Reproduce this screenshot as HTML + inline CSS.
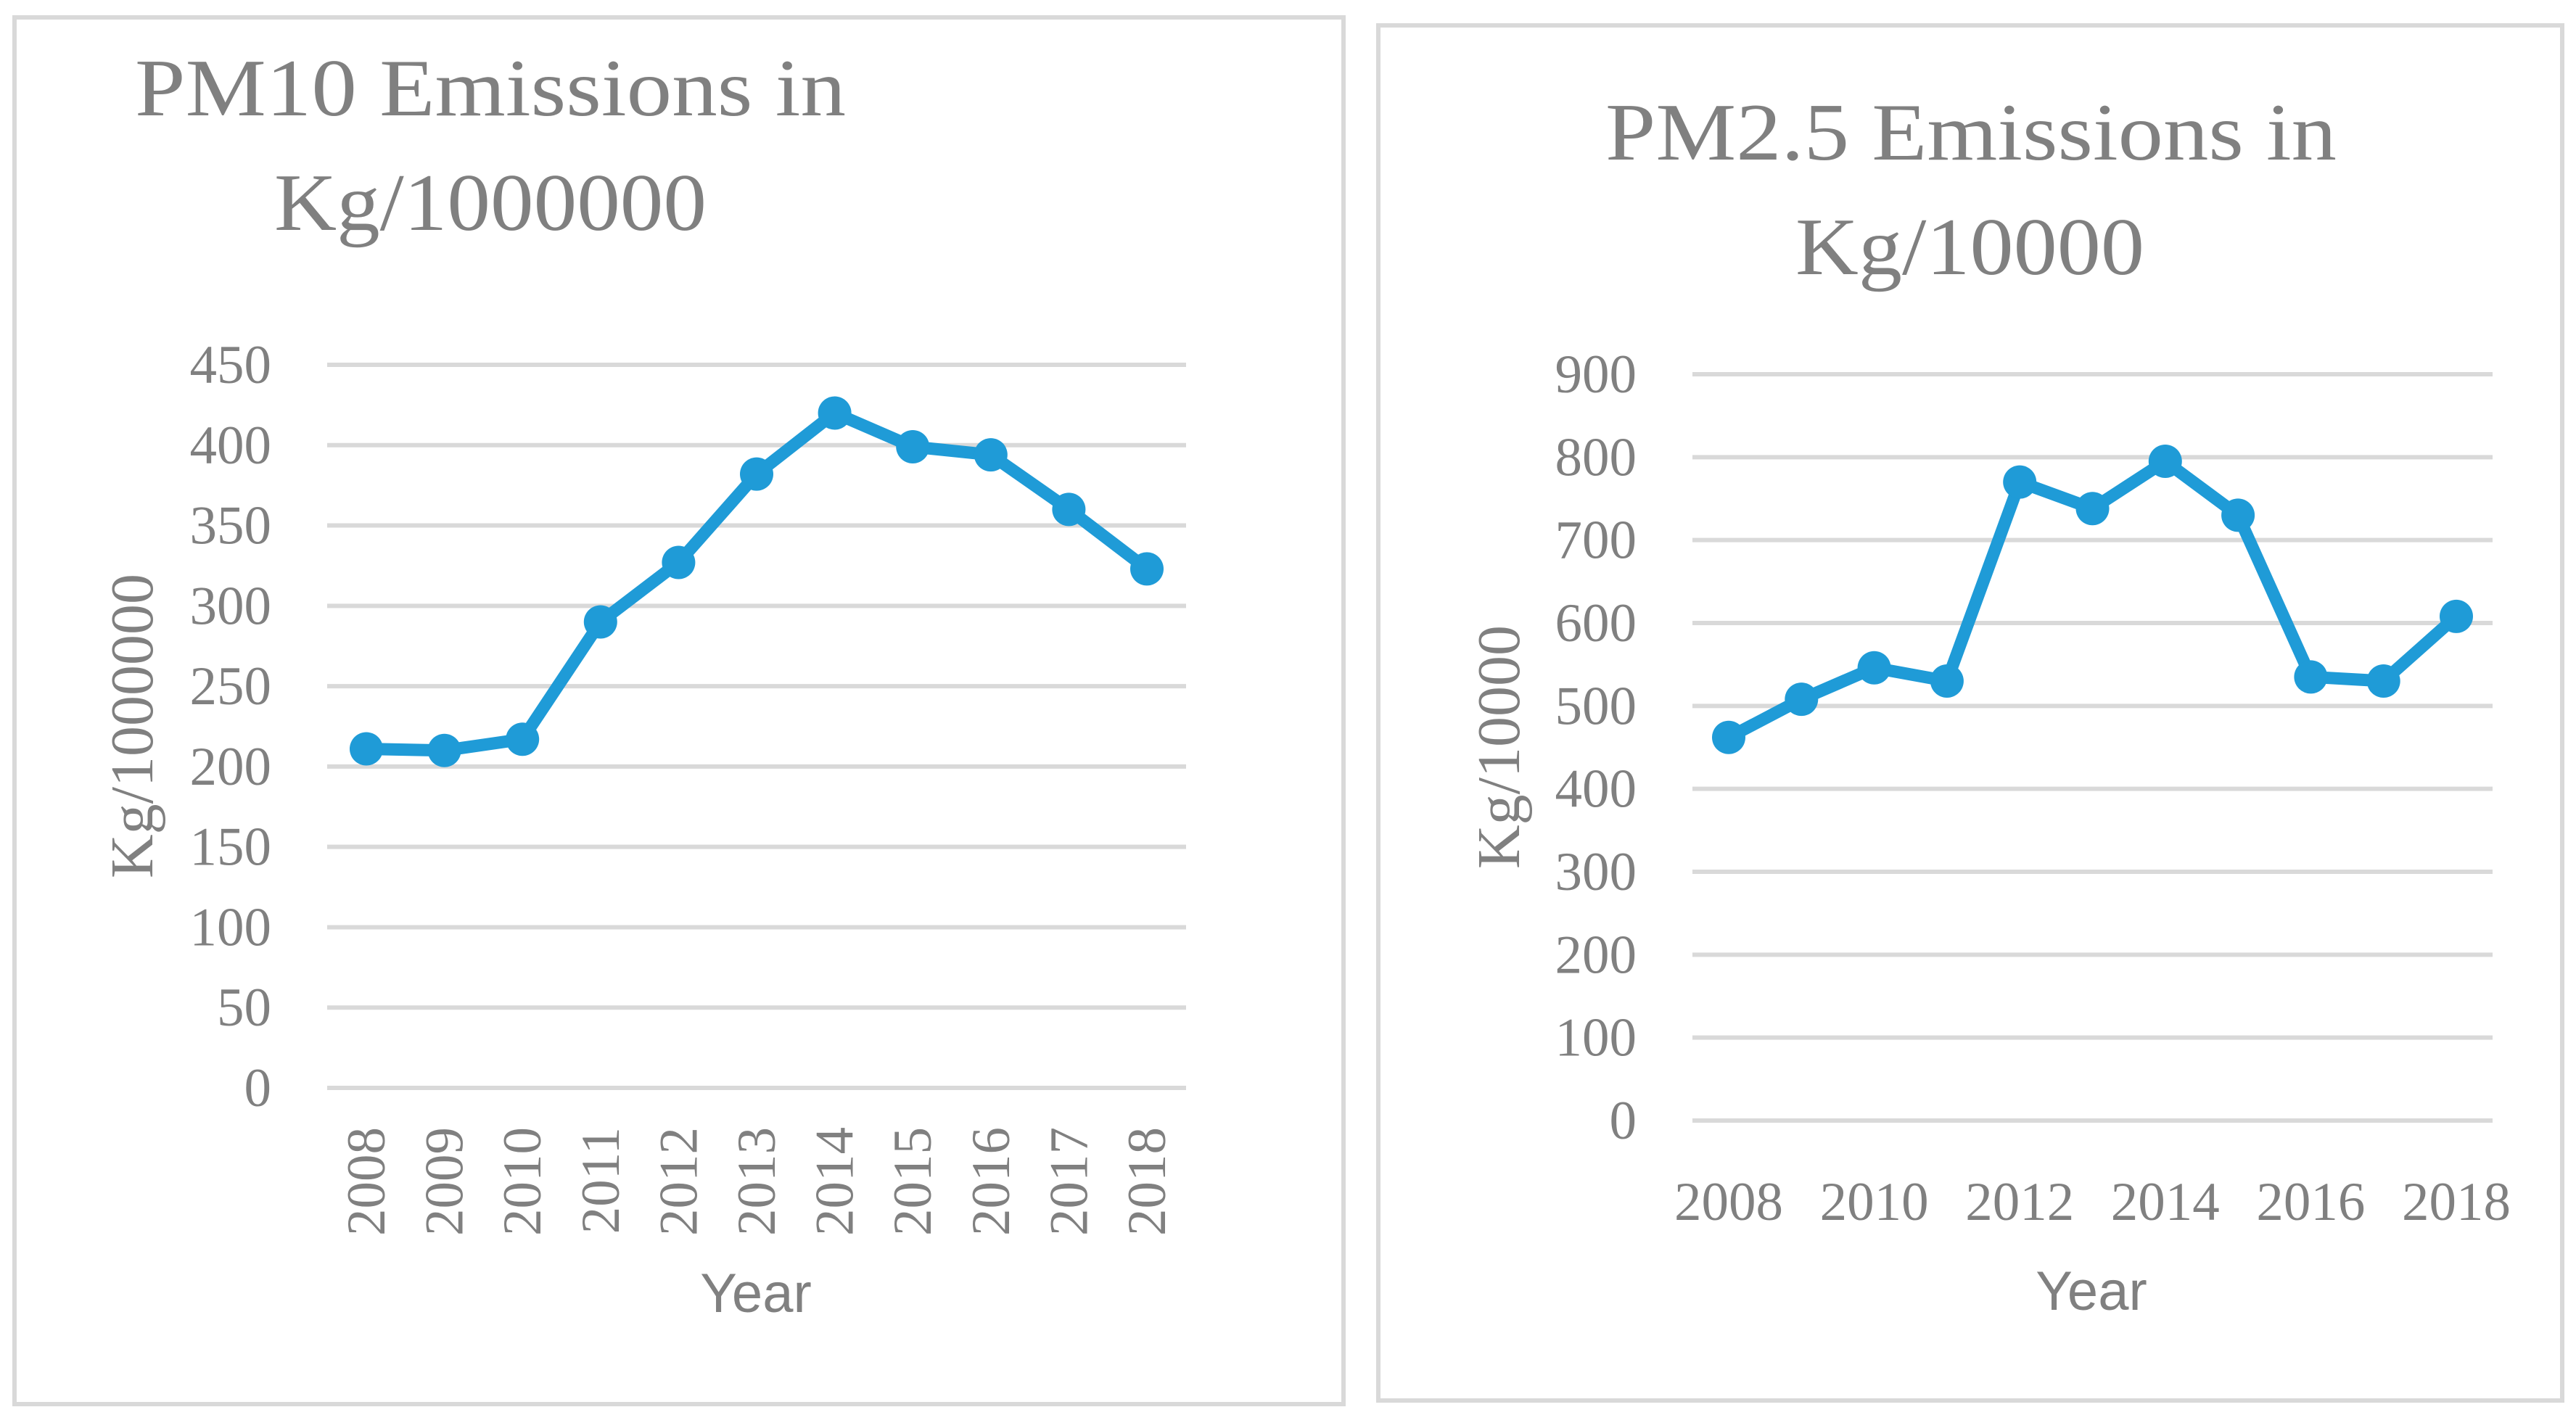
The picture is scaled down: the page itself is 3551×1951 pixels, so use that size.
<!DOCTYPE html>
<html><head><meta charset="utf-8"><style>
html,body{margin:0;padding:0;background:#fff;}
svg{display:block;}
</style></head><body>
<svg id="c" width="3551" height="1951" xmlns="http://www.w3.org/2000/svg">
<rect x="20" y="24" width="1832" height="1912" fill="#fff" stroke="#d9d9d9" stroke-width="6"/>
<rect x="1900" y="35" width="1632" height="1896" fill="#fff" stroke="#d9d9d9" stroke-width="6"/>
<g font-family="'Liberation Serif', serif" fill="#808080">
<text x="186" y="159" font-size="112" textLength="980" lengthAdjust="spacingAndGlyphs">PM10 Emissions in</text>
<text x="378" y="317" font-size="112" textLength="596" lengthAdjust="spacingAndGlyphs">Kg/1000000</text>
<text x="2213" y="220" font-size="112" textLength="1008" lengthAdjust="spacingAndGlyphs">PM2.5 Emissions in</text>
<text x="2475" y="378" font-size="112" textLength="481" lengthAdjust="spacingAndGlyphs">Kg/10000</text>
<text transform="translate(210,1001) rotate(-90)" font-size="84" text-anchor="middle">Kg/1000000</text>
<text transform="translate(2094,1030) rotate(-90)" font-size="84" text-anchor="middle">Kg/10000</text>
</g>
<g font-family="'Liberation Sans', sans-serif" fill="#808080" font-size="76">
<text x="1042" y="1809" text-anchor="middle">Year</text>
<text x="2883" y="1806" text-anchor="middle">Year</text>
</g>
<g id="g1"></g><g id="g2"></g>
</svg>
<script>
const years = [2008,2009,2010,2011,2012,2013,2014,2015,2016,2017,2018];
const pm10 = [211,210,217,290,327,382,420,399,394,360,323];
const pm25 = [462,508,546,530,770,738,795,730,535,530,608];
const pm10Ticks = [0,50,100,150,200,250,300,350,400,450];
const pm25Ticks = [0,100,200,300,400,500,600,700,800,900];
const pm25XLabels = [2008,2010,2012,2014,2016,2018];
const NS='http://www.w3.org/2000/svg';
function mk(tag,attrs,parent){const e=document.createElementNS(NS,tag);for(const k in attrs)e.setAttribute(k,attrs[k]);parent.appendChild(e);return e;}
function draw(g,cfg){
  const y=v=>cfg.y0-(v-cfg.min)/(cfg.max-cfg.min)*(cfg.y0-cfg.y1);
  const x=i=>cfg.x0+i*(cfg.x1-cfg.x0)/(years.length-1);
  cfg.ticks.forEach(t=>{
    const l=mk('line',{x1:cfg.gx0,x2:cfg.gx1,y1:y(t),y2:y(t),stroke:'#d9d9d9','stroke-width':6},g);
    
    
    const tx=mk('text',{x:cfg.lx,y:y(t)+25,'text-anchor':'end','font-family':"'Liberation Serif', serif",'font-size':75,fill:'#808080'},g);
    tx.textContent=t;
    
    
  });
  years.forEach((yr,i)=>{
    if(cfg.rot){
      const tx=mk('text',{transform:`translate(${x(i)+25},${cfg.xly}) rotate(-90)`,'text-anchor':'end','font-family':"'Liberation Serif', serif",'font-size':75,fill:'#808080'},g);
      tx.textContent=yr;
      
      
    } else if(cfg.xlabels.includes(yr)){
      const tx=mk('text',{x:x(i),y:cfg.xly,'text-anchor':'middle','font-family':"'Liberation Serif', serif",'font-size':75,fill:'#808080'},g);
      tx.textContent=yr;
      
      
    }
  });
  const pts=cfg.data.map((v,i)=>x(i)+','+y(v)).join(' ');
  const pl=mk('polyline',{points:pts,fill:'none',stroke:'#1f9bd7','stroke-width':17,'stroke-linejoin':'round'},g);
  
  
  cfg.data.forEach((v,i)=>{
    const c=mk('circle',{cx:x(i),cy:y(v),r:23,fill:'#1f9bd7'},g);
    
    
  });
}
draw(document.getElementById('g1'),{name:'pm10',data:pm10,ticks:pm10Ticks,min:0,max:450,y0:1500,y1:503,x0:505,x1:1581,gx0:451,gx1:1635,lx:374,rot:true,xly:1554,xlabels:[]});
draw(document.getElementById('g2'),{name:'pm25',data:pm25,ticks:pm25Ticks,min:0,max:900,y0:1545,y1:516,x0:2383,x1:3386,gx0:2333,gx1:3436,lx:2256,rot:false,xly:1682,xlabels:pm25XLabels});
</script>
</body></html>
